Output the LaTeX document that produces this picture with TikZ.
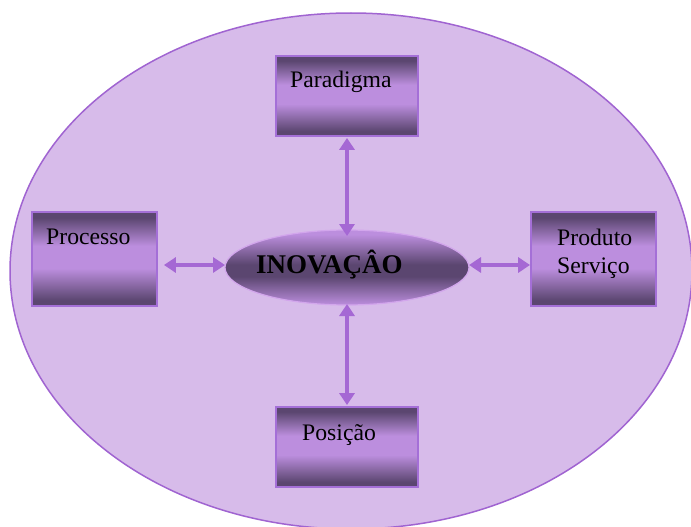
\documentclass[tikz,border=0pt]{standalone}
\usepackage{fontspec}
\setmainfont{Liberation Serif}
\usetikzlibrary{arrows.meta,shapes.geometric,calc}

\definecolor{bgfill}{HTML}{D7BBEA}
\definecolor{bgline}{HTML}{A064D1}
\definecolor{boxline}{HTML}{A46FD7}
\definecolor{shdark}{HTML}{5B4670}
\definecolor{shlight}{HTML}{BC8EDE}
\definecolor{arrowcol}{HTML}{A568D4}
\definecolor{coreline}{HTML}{D2A6EC}

% dark edges, light band across the middle
\pgfdeclareverticalshading{boxshade}{100bp}{%
  color(0bp)=(shdark); color(25bp)=(shdark); color(28bp)=(shdark);
  color(45bp)=(shlight); color(57bp)=(shlight);
  color(72bp)=(shdark); color(75bp)=(shdark); color(100bp)=(shdark)}
% light rim, dark band across the middle
\pgfdeclareverticalshading{coreshade}{100bp}{%
  color(0bp)=(shlight); color(25bp)=(shlight);
  color(44bp)=(shdark); color(52bp)=(shdark);
  color(72bp)=(shlight); color(100bp)=(shlight)}

\tikzset{
  stagebox/.style={rectangle, draw=boxline, line width=1.8pt,
    shading=boxshade, inner sep=0pt},
  label text/.style={anchor=base west, inner sep=0pt,
    font=\fontsize{23.7}{28}\selectfont},
  link/.style={{Triangle[width=15pt,length=12pt]}-{Triangle[width=15pt,length=12pt]},
    line width=3.8pt, draw=arrowcol},
}

\begin{document}
\begin{tikzpicture}[x=1pt,y=-1pt]
  \useasboundingbox (0,0) rectangle (691,527);

  % outer field
  \node[ellipse, draw=bgline, line width=1.5pt, fill=bgfill, inner sep=0pt,
        minimum width=682pt, minimum height=516pt] (field) at (351,271) {};

  % surrounding boxes
  \node[stagebox, minimum width=142pt, minimum height=80pt] (par) at (347,96) {};
  \node[stagebox, minimum width=125pt, minimum height=94pt] (proc) at (94.5,259) {};
  \node[stagebox, minimum width=125pt, minimum height=94pt] (prod) at (593.5,259) {};
  \node[stagebox, minimum width=142pt, minimum height=80pt] (pos) at (347,447) {};

  % central ellipse
  \node[ellipse, draw=coreline, line width=1.2pt, shading=coreshade, inner sep=0pt,
        minimum width=244pt, minimum height=75pt] (core) at (347,267.5) {};

  % labels
  \node[label text] (tpar) at (290,88) {Paradigma};
  \node[label text] (tproc) at (46,244) {Processo};
  \node[label text] (tprod1) at (557,245) {Produto};
  \node[label text] (tprod2) at (557,273) {Serviço};
  \node[label text] (tpos) at (302,440) {Posição};
  \node[anchor=base west, inner sep=0pt, font=\fontsize{27}{31}\selectfont\bfseries]
       (tcore) at (256,273) {INOVAÇÂO};

  % two-way links
  \coordinate (cN) at (347,236);
  \coordinate (cS) at (347,304);
  \coordinate (cW) at (225,265);
  \coordinate (cE) at (469,265);
  \draw[link] ([yshift=-1pt]par.south) -- (cN);
  \draw[link] (cS) -- ([yshift=1pt]pos.north);
  \draw[link] ([shift={(6pt,-6pt)}]proc.east) -- (cW);
  \draw[link] (cE) -- ([shift={(0pt,-6pt)}]prod.west);
\end{tikzpicture}
\end{document}
